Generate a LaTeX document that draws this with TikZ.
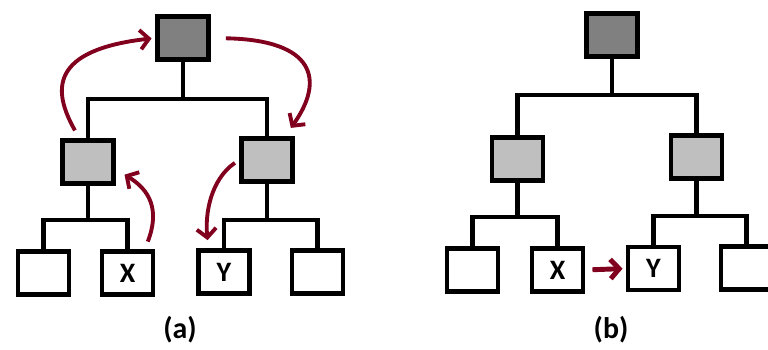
\documentclass[tikz,border=0pt]{standalone}
\usepackage{fontspec}
\setmainfont{Carlito}
\usetikzlibrary{arrows.meta}

\definecolor{darkred}{RGB}{128,0,30}

\tikzset{
  box/.style={draw=black, line width=2.8pt, minimum width=1.02cm, minimum height=0.86cm, inner sep=0pt,
    font=\fontsize{16}{18}\selectfont\bfseries},
  rootbox/.style={box, fill=gray!100!white},
  midbox/.style={box, fill=black!25},
  leafbox/.style={box, fill=white},
  edge/.style={line width=2.5pt, line cap=rect},
  move/.style={draw=darkred, line width=2.2pt, -{Straight Barb[length=5pt,width=11pt]}},
  caption/.style={font=\fontsize{17}{19}\selectfont\bfseries}
}

\begin{document}
\begin{tikzpicture}[x=0.02cm, y=-0.02cm]
    \useasboundingbox (0,0) rectangle (768,349);

    % tree (a)
    \node[rootbox] (a-root) at (183,38) {};
    \node[midbox] (a-l) at (88,162) {};
    \node[midbox] (a-r) at (267,160) {};
    \node[leafbox] (a-ll) at (43.5,273) {};
    \node[leafbox] (a-x) at (127.5,273) {X};
    \node[leafbox] (a-y) at (224,272) {Y};
    \node[leafbox] (a-rr) at (317.5,272) {};

    \draw[edge] (a-root.south) -- ++(0,37) coordinate (a-bar);
    \draw[edge] (a-l.north) |- (a-bar) -| (a-r.north);
    \draw[edge] (a-l.south) -- ++(0,34) coordinate (a-lbar);
    \draw[edge] (a-ll.north) |- (a-lbar) -| (a-x.north);
    \draw[edge] (a-r.south) -- ++(0,36) coordinate (a-rbar);
    \draw[edge] (a-y.north) |- (a-rbar) -| (a-rr.north);

    % moves in (a)
    \draw[move, shorten <=5pt, shorten >=2pt] (a-l.110) .. controls (52,90) and (50,50) .. (a-root.west);
    \draw[move, shorten <=0.3cm, shorten >=0.2cm] (a-root.east) .. controls (315,40) and (325,80) .. (a-r.53);
    \draw[move, shorten <=0.16cm, shorten >=0.2cm] (a-x.54) .. controls (160,210) and (150,190) .. (a-l.-15);
    \draw[move, shorten <=0.1cm, shorten >=0.16cm] (a-r.west) .. controls (210,180) and (205,215) .. (a-y.123);

    \node[caption] (a-cap) at (180,330) {(a)};

    % tree (b)
    \node[rootbox] (b-root) at (612,35) {};
    \node[midbox] (b-l) at (517.5,159) {};
    \node[midbox] (b-r) at (696.5,157) {};
    \node[leafbox] (b-ll) at (472.5,270) {};
    \node[leafbox] (b-x) at (557.5,270) {X};
    \node[leafbox] (b-y) at (653.5,268.5) {Y};
    \node[leafbox] (b-rr) at (746.5,268) {};

    \draw[edge] (b-root.south) -- ++(0,36) coordinate (b-bar);
    \draw[edge] (b-l.north) |- (b-bar) -| (b-r.north);
    \draw[edge] (b-l.south) -- ++(0,34) coordinate (b-lbar);
    \draw[edge] (b-ll.north) |- (b-lbar) -| (b-x.north);
    \draw[edge] (b-r.south) -- ++(0,35) coordinate (b-rbar);
    \draw[edge] (b-y.north) |- (b-rbar) -| (b-rr.north);

    \draw[move, line width=2.8pt, shorten <=0.14cm, shorten >=0.06cm] (b-x.east) -- (b-y.west);

    \node[caption] (b-cap) at (611,330) {(b)};
\end{tikzpicture}
\end{document}
